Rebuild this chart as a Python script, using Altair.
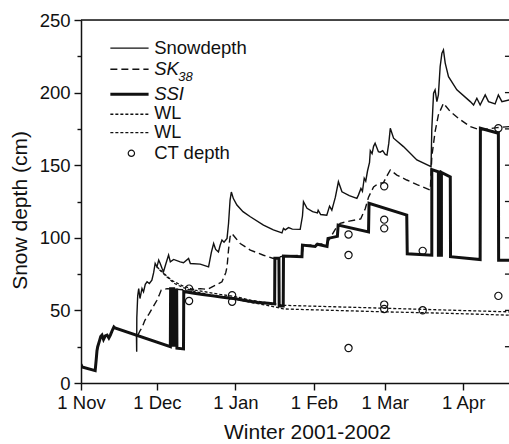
import altair as alt
import pandas as pd

# x = days since 1 Nov 2001, y = snow depth (cm)
tick_days = [0, 30, 61, 92, 120, 151]
tick_labels = ["1 Nov", "1 Dec", "1 Jan", "1 Feb", "1 Mar", "1 Apr"]

snow_day = [21.9, 22.0, 22.05, 22.4, 22.8, 23.3, 24.1, 24.7, 25.4, 26.1, 27.0, 28.0, 28.7, 29.3, 30.0,
            30.7, 31.3, 32.0, 32.6, 33.5, 34.6, 35.3, 36.6, 39.2, 40.5, 42.5, 43.2, 47.1, 50.4, 51.5,
            52.4, 53.2, 54.3, 55.0, 55.7, 56.5, 57.7, 58.3, 58.9, 59.4, 60.2, 61.6, 64.0, 66.9, 72.1,
            76.0, 79.4, 80.0, 80.7, 82.0, 83.5, 86.6, 87.5, 87.9, 89.3, 91.5, 93.4, 93.7, 94.7, 97.1,
            98.2, 99.1, 100.5, 101.7, 103.1, 106.0, 109.0, 109.6, 110.6, 111.2, 111.9, 112.5, 113.2,
            114.0, 114.3, 115.0, 115.6, 116.2, 117.5, 118.2, 119.2, 120.2, 120.9, 121.6, 122.2, 123.5,
            127.4, 132.7, 138.3, 138.6, 139.3, 139.9, 140.6, 141.2, 141.9, 142.6, 143.2, 143.9, 145.2,
            148.5, 153.8, 155.1, 156.4, 157.7, 159.7, 161.0, 163.6, 164.9, 166.3, 169.2]
snow_val = [33, 21.5, 45, 60, 65.1, 58.2, 65.1, 62.8, 68, 69.7, 68.5, 70.8, 76, 82.3, 80,
            84.6, 82.3, 79, 76.6, 82, 88.1, 83.4, 85.1, 83.4, 82.8, 85.8, 82.3, 81.9, 80, 90,
            96.1, 92, 90.3, 95, 98.4, 97, 99.6, 110, 126, 131.5, 127, 122.6, 118, 114.5, 108.8,
            105.5, 103.4, 106.5, 105.5, 107, 106, 105.8, 115, 124.8, 120.3, 118, 117.2, 119, 116, 115.6,
            121.8, 119, 128, 138.6, 131.7, 129, 127.2, 129.4, 134, 132, 141, 139, 146,
            152, 160, 158, 163, 165.1, 159.3, 159, 160, 157.5, 157, 165, 175.4, 168.6,
            162.8, 153.6, 149, 175, 199.6, 201.9, 193.8, 198.4, 217.9, 227.2, 229.4, 220.3, 211,
            201.9, 193.8, 191.5, 196.1, 191.5, 198.4, 193.8, 192.2, 198.4, 193.8, 195]

sk_day = [22.5, 23.3, 24.1, 25.2, 26.1, 27.0, 28.0, 29.0, 30.0, 31.0, 31.7, 34.0, 38.0, 42.0, 47.1,
          50.0, 52.4, 55.7, 57.2, 57.7, 58.3, 58.9, 59.6, 61.0, 62.9, 66.9, 72.1, 76.0, 80.0, 87.3,
          87.8, 93.0, 97.0, 98.5, 100.5, 102.4, 106.0, 109.0, 110.5, 112.3, 113.6, 115.6, 117.5,
          119.5, 121.0, 122.2, 124.8, 128.7, 133.0, 138.0, 138.6, 139.9, 141.2, 143.2, 145.9, 149.1,
          153.8, 157.7, 161.0, 164.3, 169.2]
sk_val = [33, 36, 38, 43, 45.5, 48, 51, 54, 57, 61, 64, 65, 64.5, 64, 65,
          64.5, 66.7, 69.7, 76, 80, 92, 100.7, 103, 100, 96.1, 91.5, 88, 85.8, 87.5, 88,
          94.5, 95.5, 96, 100, 106, 110, 111.5, 112.5, 113, 120, 128, 135, 137.5,
          138, 143, 146.7, 143.2, 139.8, 136.5, 132.9, 155.9, 173.1, 184.6, 192.7, 186.9, 182.3,
          176.6, 174.3, 175, 175.9, 176.6]

ssi_day = [0, 0.4, 5.6, 6.0, 6.3, 6.6, 7.3, 7.8, 8.3, 8.9, 9.6, 10.3, 11.0, 11.6, 12.3, 13.0, 13.4,
           35.3, 35.4, 35.7, 36.0, 36.3, 36.6, 36.9, 37.2, 37.5, 37.8, 37.9, 40.5, 40.6, 44, 48, 52,
           56, 61, 66, 70, 74, 76.5, 76.6, 78.2, 78.3, 79.9, 80.0, 87.3, 87.5, 92.5, 93.4, 97.2,
           97.6, 101.3, 101.6, 113.6, 113.8, 128.7, 128.9, 138.6, 138.6, 141.2, 141.2, 141.6, 141.6,
           142.0, 142.0, 142.4, 142.4, 145.9, 146.0, 157.7, 157.8, 164.9, 165.0, 169.2]
ssi_val = [13, 11, 8.5, 16, 22, 25, 29, 32, 33, 30, 32.5, 33, 31, 33, 36, 38.6, 38,
           25, 66, 25, 66, 25, 66, 25, 65, 25, 65, 24, 23.5, 63, 62, 61, 60,
           59, 58, 56.5, 55.5, 55, 54.5, 86, 86, 53, 53, 87.4, 87, 95, 94, 95.6, 94,
           99.6, 101, 108.8, 104, 123.7, 115.7, 89, 88, 147, 145.5, 88, 88, 145.3,
           145.2, 88, 88, 145, 142, 87, 85, 175.4, 172, 84.5, 84.5]

wl1_day = [30, 33, 36, 40, 45, 50, 55, 61, 67, 75, 80, 100, 120, 145, 169.2]
wl1_val = [80, 75, 70.5, 67, 64, 62.5, 61, 59.5, 57, 55, 53.5, 52.5, 51.5, 50.2, 49]
wl2_day = [31, 34, 37, 40, 45, 50, 55, 61, 67, 75, 80, 100, 120, 145, 169.2]
wl2_val = [78, 73, 68.5, 66, 63, 61, 59.5, 58, 55.5, 53, 51, 50, 49, 48, 46.7]

ct_day = [42.7, 42.7, 59.7, 59.7, 105.7, 105.7, 105.7, 119.8, 119.8, 119.8, 119.8, 119.8,
          135.0, 135.0, 164.9, 164.9]
ct_val = [65, 56.5, 60.5, 56, 102.3, 88.1, 24.1, 135.5, 112.5, 106.5, 54, 51,
          91, 50.1, 175.5, 60]

legend_names = ["Snowdepth", "SK", "SSI", "WL", "WL", "CT depth"]
right_tick_vals = [25, 50, 75, 100, 125, 150, 175, 200, 225]

# ---------------- layout / style ----------------
W, H = 428, 363
FONT = "Liberation Sans"
INK = "#111111"
X_END = 169.1
xs = alt.Scale(domain=[0, X_END], nice=False, zero=False)
ys = alt.Scale(domain=[0, 250], nice=False, zero=False)

label_expr = " : ".join(f"datum.value == {d} ? '{l}'" for d, l in zip(tick_days, tick_labels)) + " : ''"
x_axis = alt.Axis(values=tick_days, labelExpr=label_expr, title="Winter 2001-2002", grid=False,
                  tickSize=7, tickWidth=1.4, tickColor=INK, domainColor=INK, domainWidth=1.5,
                  labelFont=FONT, labelFontSize=18.5, labelColor=INK, labelPadding=3,
                  labelFlush=False, labelOverlap=False,
                  titleFont=FONT, titleFontSize=21, titleFontWeight="normal", titleColor=INK,
                  titleX=226, titleY=55, titleBaseline="alphabetic", titleAlign="center",
                  titleAnchor="start")
y_axis = alt.Axis(values=list(range(0, 251, 25)),
                  labelExpr="datum.value % 50 == 0 ? datum.label : ''",
                  title="Snow depth (cm)", grid=False,
                  tickSize={"condition": {"test": "datum.value % 50 == 0", "value": 7}, "value": 4},
                  tickWidth=1.4, tickColor=INK, domainColor=INK, domainWidth=1.5,
                  labelFont=FONT, labelFontSize=18.5, labelColor=INK, labelPadding=4,
                  labelOverlap=False,
                  titleFont=FONT, titleFontSize=21, titleFontWeight="normal", titleColor=INK,
                  titleX=-55, titleY=190, titleAngle=-90, titleBaseline="alphabetic",
                  titleAlign="center", titleAnchor="start")


def X(field):
    return alt.X(field, scale=xs, axis=x_axis)


def Y(field):
    return alt.Y(field, scale=ys, axis=y_axis)


def series_df(days, vals):
    return pd.DataFrame({"d": days, "v": vals, "i": list(range(len(days)))})


def line_layer(days, vals, width, dash=None):
    kw = dict(color=INK, strokeWidth=width, clip=True)
    if dash:
        kw["strokeDash"] = dash
    return alt.Chart(series_df(days, vals)).mark_line(**kw).encode(
        x=X("d:Q"), y=Y("v:Q"), order=alt.Order("i:Q"))


snow = line_layer(snow_day, snow_val, 1.4)
sk = line_layer(sk_day, sk_val, 1.4, dash=[7, 4])
ssi = line_layer(ssi_day, ssi_val, 3.0)
wl1 = line_layer(wl1_day, wl1_val, 1.3, dash=[3, 2])
wl2 = line_layer(wl2_day, wl2_val, 1.3, dash=[3, 2])

ct = alt.Chart(series_df(ct_day, ct_val)).mark_point(
    shape="circle", size=52, filled=False, color=INK, strokeWidth=1.2, opacity=1, clip=True
).encode(x=X("d:Q"), y=Y("v:Q"))

# top frame line
top = alt.Chart(pd.DataFrame({"v": [250]})).mark_rule(color=INK, strokeWidth=1.5).encode(y=Y("v:Q"))

# short inward ticks along the (cropped) right edge
rt = pd.DataFrame({"d": [X_END - 1.6] * len(right_tick_vals), "d2": [X_END] * len(right_tick_vals),
                   "v": right_tick_vals})
right_ticks = alt.Chart(rt).mark_rule(color=INK, strokeWidth=1.3).encode(
    x=X("d:Q"), x2="d2:Q", y=Y("v:Q"))

# ---------------- legend (placed in data units, top-left) ----------------
leg_y = [230.6, 216.1, 198.9, 185.1, 172.4, 158.2]
lx0, lx1, ltx, lcx = 11.6, 26.7, 28.9, 19.9


def leg_line(row, width, dash=None):
    kw = dict(color=INK, strokeWidth=width)
    if dash:
        kw["strokeDash"] = dash
    df = pd.DataFrame({"d": [lx0], "d2": [lx1], "v": [leg_y[row]]})
    return alt.Chart(df).mark_rule(**kw).encode(x=X("d:Q"), x2="d2:Q", y=Y("v:Q"))


def leg_text(row, text, style="normal", size=18.5, dx=0, dy=0):
    df = pd.DataFrame({"d": [ltx], "v": [leg_y[row]], "t": [text]})
    return alt.Chart(df).mark_text(align="left", baseline="middle", font=FONT, fontSize=size,
                                   fontStyle=style, color=INK, dx=dx, dy=dy).encode(
        x=X("d:Q"), y=Y("v:Q"), text="t:N")


legend_layers = [
    leg_line(0, 1.4), leg_text(0, legend_names[0]),
    leg_line(1, 1.4, [7, 4]), leg_text(1, legend_names[1], "italic"),
    leg_text(1, "38", "italic", size=13, dx=24, dy=8),
    leg_line(2, 3.0), leg_text(2, legend_names[2], "italic"),
    leg_line(3, 1.3, [3, 2]), leg_text(3, legend_names[3], size=18),
    leg_line(4, 1.3, [3, 2]), leg_text(4, legend_names[4], size=18),
    leg_text(5, legend_names[5]),
    alt.Chart(pd.DataFrame({"d": [lcx], "v": [leg_y[5]]})).mark_point(
        shape="circle", size=40, filled=False, color=INK, strokeWidth=1.2, opacity=1).encode(
        x=X("d:Q"), y=Y("v:Q")),
]

chart = alt.layer(snow, sk, wl1, wl2, ssi, ct, top, right_ticks, *legend_layers).properties(
    width=W, height=H,
    autosize=alt.AutoSizeParams(type="none"),
    padding={"left": 81, "top": 20, "right": 0, "bottom": 61},
).configure_view(stroke=None).configure(background="white")

chart.save("out.html", embed_options={"renderer": "svg", "actions": False})
